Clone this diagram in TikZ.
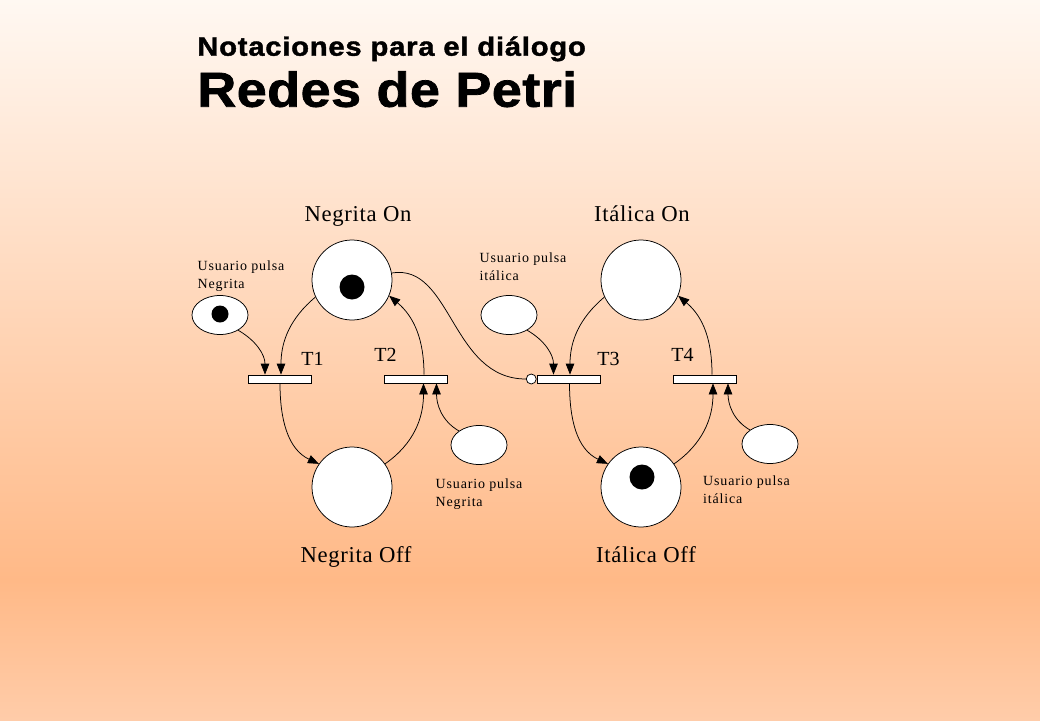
\documentclass[tikz,border=0pt]{standalone}
\usepackage{fontspec}
\setmainfont{Liberation Serif}
\setsansfont{Liberation Sans}
\usetikzlibrary{arrows.meta,shapes.geometric,positioning}
\definecolor{bgtop}{HTML}{FFF8F2}
\definecolor{bgmid}{HTML}{FFB987}
\definecolor{bgbot}{HTML}{FFCCA9}
\begin{document}
\begin{tikzpicture}[x=1pt,y=1pt,line width=0.75pt,
  >={Triangle[length=11pt,width=8.5pt]},
  place/.style={circle,draw,fill=white,minimum size=80pt},
  token/.style={circle,fill=black,minimum size=25pt},
  input/.style={ellipse,draw,fill=white,minimum width=56pt,minimum height=39pt},
  trans/.style={rectangle,draw,fill=white,minimum width=63pt,minimum height=8pt},
  inhib/.style={circle,draw,fill=white,minimum size=10pt},
  heading/.style={anchor=base west,font=\sffamily\bfseries\addfontfeatures{FakeStretch=1.1,FakeBold=1.5}},
  tlabel/.style={font=\fontsize{20}{24}\selectfont,anchor=base west},
  plabel/.style={font=\fontsize{22.7}{26}\selectfont\addfontfeatures{LetterSpace=3},anchor=base},
  ulabel/.style={font=\fontsize{14}{18.3}\selectfont\addfontfeatures{LetterSpace=6},align=left,anchor=base west}]
\tikzstyle{every node}+=[inner sep=0pt]
\useasboundingbox (0,0) rectangle (1040,-720);
\shade [top color=bgtop,bottom color=bgmid] (0,0) rectangle (1040,-580);
\shade [top color=bgmid,bottom color=bgbot] (0,-580) rectangle (1040,-720);
\node [heading] (title) at (197,-55.7) {\fontsize{26.5}{30}\selectfont\addfontfeatures{LetterSpace=3}Notaciones para el diálogo};
\node [heading] (subtitle) at (197,-106.7) {\fontsize{49}{55}\selectfont\addfontfeatures{LetterSpace=1}Redes de Petri};
\node [place] (non) at (352,-280) {};
\node [token] (tokNon) at (352,-287) {};
\node [place] (noff) at (352,-487) {};
\node [place] (ion) at (641,-280) {};
\node [place] (ioff) at (641,-487) {};
\node [token] (tokIoff) at (642,-477) {};
\node [input] (uNon) at (220,-315) {};
\node [token,minimum size=17pt] (tokU) at (220,-314) {};
\node [input] (uIon) at (509,-315) {};
\node [input] (uNoff) at (479,-445) {};
\node [input] (uIoff) at (770,-444) {};
\node [trans] (t1) at (280,-379) {};
\node [trans] (t2) at (416,-379) {};
\node [trans] (t3) at (568.5,-379) {};
\node [trans] (t4) at (705,-379) {};
\node [inhib,left=0pt of t3] (inh) {};
\node [tlabel] (lt1) at (301,-365) {T1};
\node [tlabel] (lt2) at (374,-361.7) {T2};
\node [tlabel] (lt3) at (597,-365) {T3};
\node [tlabel] (lt4) at (671,-361.7) {T4};
\node [plabel] (lnon) at (358,-221.7) {Negrita On};
\node [plabel] (lion) at (642,-221.7) {Itálica On};
\node [plabel] (lnoff) at (356,-562.3) {Negrita Off};
\node [plabel] (lioff) at (646,-562.3) {Itálica Off};
\node [ulabel] (luNon) at (197.3,-288.3) {Usuario pulsa\\Negrita};
\node [ulabel] (luIon) at (479.3,-280.7) {Usuario pulsa\\itálica};
\node [ulabel] (luNoff) at (435.3,-506.7) {Usuario pulsa\\Negrita};
\node [ulabel] (luIoff) at (702.8,-503.3) {Usuario pulsa\\itálica};
\draw [->] (uNon.-40) to[out=-30,in=90] ([xshift=-15pt]t1.north);
\draw [->] (non.-155) to[out=-140,in=90] ([xshift=1pt]t1.north);
\draw [->] ([xshift=8pt]t2.north) to[out=90,in=-40] (non.-23);
\draw [->] (noff.35) to[out=35,in=-90] ([xshift=7.5pt]t2.south);
\draw [->] (uNoff.145) to[out=150,in=-90] ([xshift=20.5pt]t2.south);
\draw [->] (t1.south) to[out=-90,in=155] (noff.145);
\draw (non.10) .. controls +(60,10) and +(-75,0) .. (inh.west);
\draw [->] (uIon.-40) to[out=-30,in=90] ([xshift=-15pt]t3.north);
\draw [->] (ion.-155) to[out=-140,in=90] ([xshift=1.5pt]t3.north);
\draw [->] ([xshift=7pt]t4.north) to[out=90,in=-40] (ion.-23);
\draw [->] (ioff.35) to[out=35,in=-90] ([xshift=8pt]t4.south);
\draw [->] (uIoff.145) to[out=150,in=-90] ([xshift=23pt]t4.south);
\draw [->] ([xshift=1pt]t3.south) to[out=-90,in=155] (ioff.145);
\end{tikzpicture}
\end{document}
